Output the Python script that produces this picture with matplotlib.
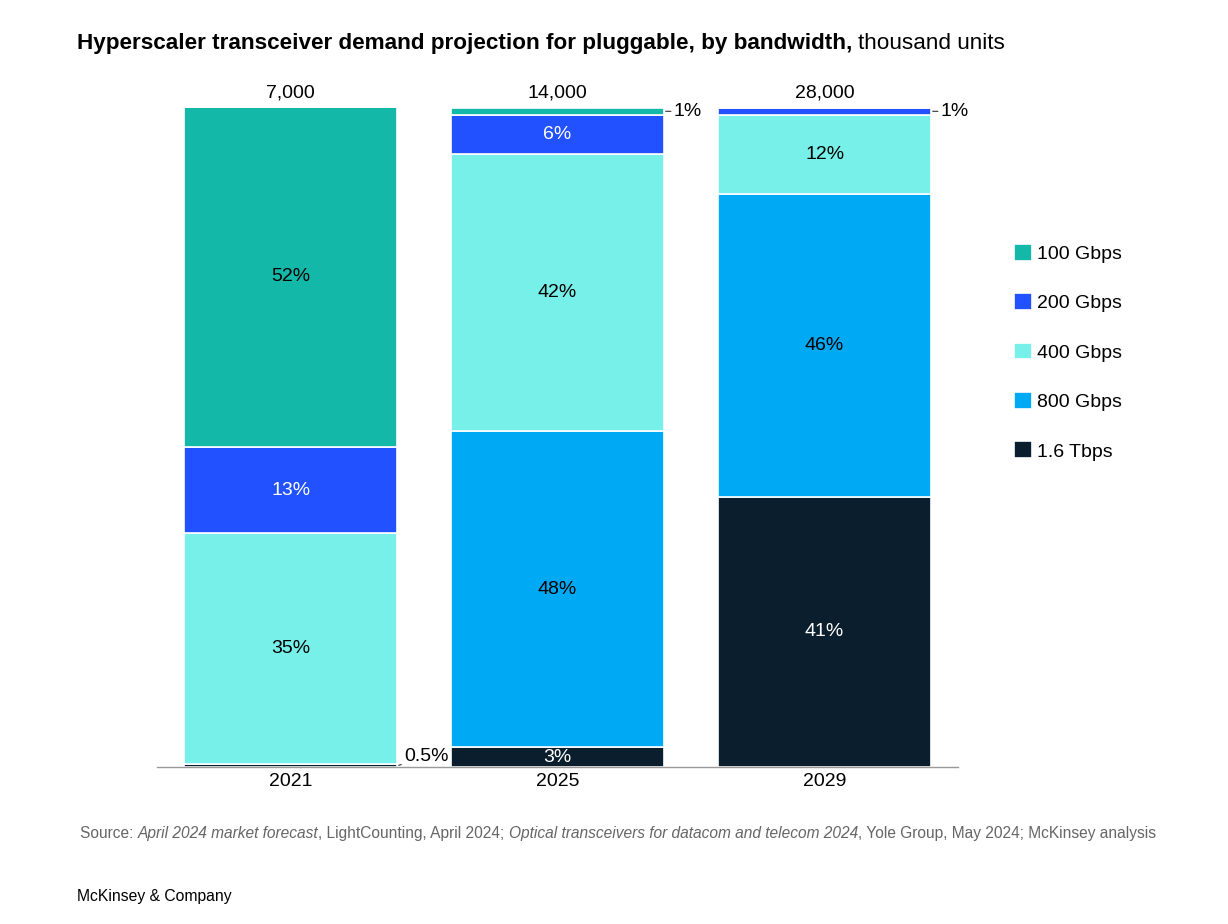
import matplotlib
matplotlib.use("Agg")
import matplotlib.pyplot as plt
import numpy as np

plt.rcParams['font.family'] = ['Liberation Sans', 'DejaVu Sans']

years = ["2021", "2025", "2029"]
totals = ["7,000", "14,000", "28,000"]
series = ["1.6 Tbps", "800 Gbps", "400 Gbps", "200 Gbps", "100 Gbps"]
# percentage shares, bottom to top
share_16t = [0.5, 3, 41]
share_800 = [0, 48, 46]
share_400 = [35, 42, 12]
share_200 = [13, 6, 1]
share_100 = [52, 1, 0]
colors = ["#0B1E2D", "#00A9F4", "#76F0E8", "#2251FF", "#14B8A8"]
label_colors = ["white", "black", "black", "white", "black"]

data = [share_16t, share_800, share_400, share_200, share_100]

fig = plt.figure(figsize=(12.28, 9.24), dpi=100)
ax = fig.add_axes([0.1279, 0.1699, 0.6523, 0.7132])
x = np.arange(len(years))
width = 0.8
bottom = np.zeros(len(years))
for vals, col, lc, name in zip(data, colors, label_colors, series):
    vals = np.array(vals, dtype=float)
    ax.bar(x, vals, width, bottom=bottom, color=col, edgecolor="white",
           linewidth=1.2, label=name)
    for i, v in enumerate(vals):
        if v >= 3:
            ax.text(x[i], bottom[i] + v / 2, f"{v:g}%", ha="center", va="center",
                    color=lc, fontsize=14)
    bottom += vals

# small-segment annotations
ax.annotate("0.5%", xy=(x[0] + width / 2 + 0.005, 0.25), xytext=(x[0] + width / 2 + 0.025, 1.6),
            fontsize=14, ha="left", va="center", annotation_clip=False,
            arrowprops=dict(arrowstyle="-", color="#333333", lw=0.8, shrinkA=0, shrinkB=0))
for i in (1, 2):
    ytop = bottom[i] - 0.5
    ax.annotate("1%", xy=(x[i] + width / 2 + 0.005, ytop), xytext=(x[i] + width / 2 + 0.035, ytop),
                fontsize=14, ha="left", va="center", annotation_clip=False,
                arrowprops=dict(arrowstyle="-", color="#333333", lw=0.8, shrinkA=0, shrinkB=0))

for i, t in enumerate(totals):
    ax.text(x[i], 101.0, t, ha="center", va="bottom", fontsize=14, color="black", clip_on=False)

ax.set_xlim(-0.5, 2.5)
ax.set_ylim(0, 100)
ax.set_xticks(x)
ax.set_xticklabels(years, fontsize=14)
ax.tick_params(axis="x", length=0, pad=4)
ax.set_yticks([])
for s in ["top", "right", "left"]:
    ax.spines[s].set_visible(False)
ax.spines["bottom"].set_color("#999999")
ax.spines["bottom"].set_linewidth(1)

# legend (top-to-bottom: 100, 200, 400, 800, 1.6)
handles, labels = ax.get_legend_handles_labels()
leg = fig.legend(handles[::-1], labels[::-1], loc="upper left", bbox_to_anchor=(0.8115, 0.755),
                 frameon=False, fontsize=14, handlelength=0.95, handleheight=0.95,
                 handletextpad=0.25, labelspacing=1.56)

# title
fig.canvas.draw()
r = fig.canvas.get_renderer()
ty = 1 - 49 / 924
t1 = fig.text(77 / 1228, ty, "Hyperscaler transceiver demand projection for pluggable, by bandwidth,",
              fontsize=16.2, fontweight="bold", va="baseline", ha="left")
bb = t1.get_window_extent(r)
fig.text((bb.x1 + 6) / 1228, ty, "thousand units", fontsize=16.2, va="baseline", ha="left")

# source line with mixed italic
pieces = [("Source: ", "normal"), ("April 2024 market forecast", "italic"),
          (", LightCounting, April 2024; ", "normal"),
          ("Optical transceivers for datacom and telecom 2024", "italic"),
          (", Yole Group, May 2024; McKinsey analysis", "normal")]
xpos = 80
sy = 1 - 838 / 924
for txt, st in pieces:
    tt = fig.text(xpos / 1228, sy, txt, fontsize=11.2, style=st, color="#666666",
                  va="baseline", ha="left")
    bb = tt.get_window_extent(r)
    xpos = bb.x1

fig.text(77 / 1228, 1 - 896 / 924, "McKinsey & Company", fontsize=11.3, color="black",
         va="center", ha="left")

fig.savefig("out.png", dpi=100)
